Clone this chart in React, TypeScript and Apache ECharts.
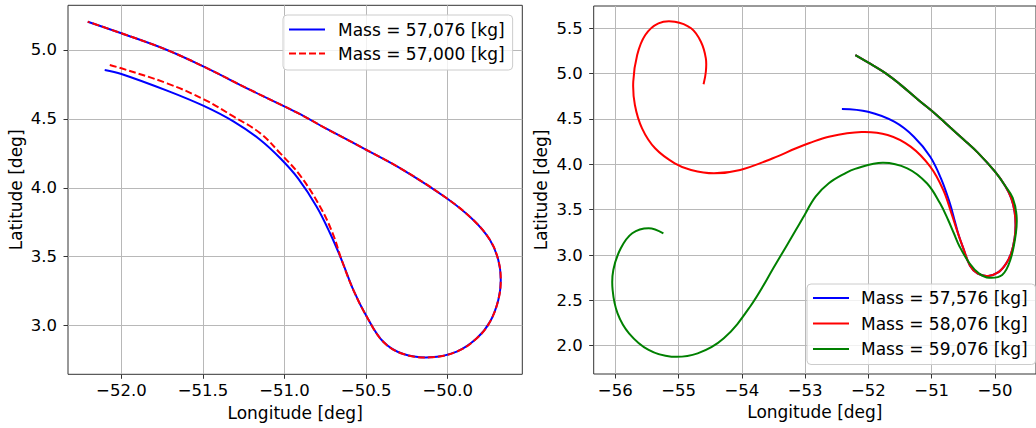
import React, { useEffect, useRef } from "react";
import * as echarts from "echarts";

// ---------- Data (longitude, latitude) ----------
// Left panel
const leftXTicks = [-52.0, -51.5, -51.0, -50.5, -50.0];
const leftYTicks = [3.0, 3.5, 4.0, 4.5, 5.0];
// Right panel
const rightXTicks = [-56, -55, -54, -53, -52, -51, -50];
const rightYTicks = [2.0, 2.5, 3.0, 3.5, 4.0, 4.5, 5.0, 5.5];

// Shared return loop (bottom of the loop) and upper branch
const loopBottom: number[][] = [
  [-50.496, 3.065], [-50.395, 2.883], [-50.272, 2.794], [-50.108, 2.770],
  [-49.945, 2.811], [-49.822, 2.908], [-49.741, 3.028], [-49.690, 3.186],
  [-49.675, 3.331], [-49.690, 3.476], [-49.741, 3.621],
];
const upperBranch: number[][] = [
  [-49.843, 3.766], [-50.006, 3.924], [-50.272, 4.129], [-50.496, 4.274],
  [-50.741, 4.427], [-50.923, 4.545], [-51.210, 4.710], [-51.495, 4.879],
  [-51.720, 5.0], [-52.0, 5.121], [-52.206, 5.205],
];

// Mass = 57,076 kg (lower branch)
const lower57076: number[][] = [
  [-52.102, 4.855], [-52.0, 4.826], [-51.720, 4.705], [-51.495, 4.594],
  [-51.311, 4.480], [-51.148, 4.347], [-51.026, 4.214], [-50.915, 4.065],
  [-50.803, 3.863], [-50.721, 3.670], [-50.650, 3.476], [-50.578, 3.258],
];
// Mass = 57,000 kg (lower branch)
const lower57000: number[][] = [
  [-52.071, 4.891], [-52.0, 4.867], [-51.720, 4.758], [-51.495, 4.642],
  [-51.311, 4.516], [-51.148, 4.395], [-51.026, 4.250], [-50.905, 4.090],
  [-50.782, 3.863], [-50.705, 3.670], [-50.650, 3.476], [-50.578, 3.258],
];
// Mass = 57,576 kg
const lower57576: number[][] = [
  [-52.419, 4.610], [-52.006, 4.580], [-51.592, 4.470], [-51.282, 4.305],
  [-51.023, 4.084], [-50.843, 3.827], [-50.713, 3.570], [-50.640, 3.386],
  [-50.575, 3.220],
];
// Mass = 58,076 kg
const path58076: number[][] = [
  [-54.605, 4.883], [-54.569, 5.021], [-54.569, 5.169], [-54.647, 5.352],
  [-54.802, 5.500], [-55.060, 5.573], [-55.318, 5.555], [-55.526, 5.426],
  [-55.654, 5.206], [-55.716, 4.911], [-55.690, 4.654], [-55.577, 4.397],
  [-55.371, 4.177], [-55.060, 4.011], [-54.802, 3.938], [-54.440, 3.901],
  [-54.026, 3.938], [-53.510, 4.067], [-53.143, 4.177], [-52.941, 4.232],
  [-52.626, 4.305], [-52.109, 4.357], [-51.696, 4.324], [-51.333, 4.195],
  [-51.023, 3.974], [-50.817, 3.717], [-50.688, 3.460], [-50.590, 3.250],
];
// Mass = 59,076 kg
const path59076: number[][] = [
  [-55.240, 3.240], [-55.473, 3.295], [-55.732, 3.240], [-55.913, 3.074],
  [-56.031, 2.835], [-56.042, 2.614], [-55.964, 2.357], [-55.783, 2.137],
  [-55.473, 1.953], [-55.112, 1.879], [-54.698, 1.916], [-54.285, 2.082],
  [-53.871, 2.430], [-53.457, 2.909], [-53.147, 3.276], [-53.039, 3.405],
  [-52.835, 3.643], [-52.626, 3.791], [-52.367, 3.901], [-52.212, 3.950],
  [-51.774, 4.018], [-51.386, 3.956], [-51.076, 3.791], [-50.868, 3.570],
  [-50.740, 3.386], [-50.650, 3.240], [-50.558, 3.092], [-50.403, 2.909],
  [-50.250, 2.795], [-50.093, 2.750], [-49.887, 2.780], [-49.758, 2.945],
  [-49.670, 3.240], [-49.660, 3.440], [-49.720, 3.630],
];

const names = {
  a: "Mass = 57,076 [kg]",
  b: "Mass = 57,000 [kg]",
  c: "Mass = 57,576 [kg]",
  d: "Mass = 58,076 [kg]",
  e: "Mass = 59,076 [kg]",
};

const FONT = "DejaVu Sans";
const minus = (s: string) => s.replace("-", "\u2212");
const SOLID_ICON = "path://M0,0H36V2H0Z";
const DASH_ICON = "path://M0,0H7V2H0Z M10,0H17V2H10Z M20,0H27V2H20Z M30,0H36V2H30Z";

export default function App() {
  const ref = useRef<HTMLDivElement>(null);
  useEffect(() => {
    if (!ref.current) return;
    const chart = echarts.init(ref.current, undefined, { renderer: "svg" });

    const axisCommon = (ticks: number[], digits: number) => ({
      type: "value" as const,
      axisLine: { show: false },
      axisTick: {
        show: true,
        customValues: ticks,
        length: 4.5,
        lineStyle: { color: "#333", width: 1 },
      },
      axisLabel: {
        customValues: ticks,
        color: "#000",
        fontFamily: FONT,
        fontSize: 16.5,
        formatter: (v: number) => minus(Number(v).toFixed(digits)),
      },
      splitLine: { show: true, lineStyle: { color: "#b8b8b8", width: 1 } },
      nameTextStyle: { color: "#000", fontFamily: FONT, fontSize: 17 },
    });

    const xAxisStyle = (ticks: number[], digits: number, min: number, max: number, gridIndex: number) => {
      const a: any = axisCommon(ticks, digits);
      a.axisLabel.margin = 8;
      return {
        ...a, gridIndex, min, max,
        name: "Longitude [deg]", nameLocation: "middle", nameGap: 29,
      };
    };
    const yAxisStyle = (ticks: number[], digits: number, min: number, max: number, gridIndex: number) => {
      const a: any = axisCommon(ticks, digits);
      a.axisLabel.margin = 11;
      return {
        ...a, gridIndex, min, max,
        name: "Latitude [deg]", nameLocation: "middle", nameGap: 44,
      };
    };

    const legendCommon = {
      orient: "vertical" as const,
      itemWidth: 36,
      itemHeight: 2,
      backgroundColor: "rgba(255,255,255,0.8)",
      borderColor: "#cccccc",
      borderWidth: 1,
      borderRadius: 4,
      selectedMode: false,
      textStyle: { color: "#000", fontFamily: FONT, fontSize: 17, lineHeight: 17 },
    };

    // A trajectory: the whole ordered list of points is drawn as one smooth
    // polyline, positioned through the axes' scales (api.coord).
    const curve = (name: string, pts: number[][], color: string, idx: number, dashed = false) => ({
      type: "custom" as const,
      name,
      coordinateSystem: "cartesian2d",
      xAxisIndex: idx,
      yAxisIndex: idx,
      data: pts,
      encode: { x: 0, y: 1 },
      color,
      itemStyle: { color },
      clip: true,
      silent: true,
      renderItem: (params: any, api: any) => {
        if (params.dataIndex !== 0) return null;
        const points = pts.map((p) => api.coord(p));
        return {
          type: "polyline",
          shape: { points, smooth: 0.38 },
          style: {
            stroke: color,
            lineWidth: 2,
            fill: null,
            lineDash: dashed ? [7, 3] : null,
            lineJoin: "round",
          },
        };
      },
    });

    chart.setOption({
      animation: false,
      grid: [
        { left: 68, top: 5.3, width: 454.3, height: 369, show: true, borderColor: "#333", borderWidth: 1, backgroundColor: "transparent" },
        { left: 593.7, top: 6, width: 451, height: 368, show: true, borderColor: "#333", borderWidth: 1, backgroundColor: "transparent" },
      ],
      xAxis: [
        xAxisStyle(leftXTicks, 1, -52.327, -49.543, 0),
        xAxisStyle(rightXTicks, 0, -56.341, -49.352, 1),
      ],
      yAxis: [
        yAxisStyle(leftYTicks, 1, 2.647, 5.324, 0),
        yAxisStyle(rightYTicks, 1, 1.688, 5.746, 1),
      ],
      legend: [
        {
          ...legendCommon,
          data: [
            { name: names.a, icon: SOLID_ICON },
            { name: names.b, icon: DASH_ICON },
          ],
          left: 283,
          top: 15,
          padding: [6, 8, 8, 6],
          itemGap: 7,
          textStyle: { ...legendCommon.textStyle, padding: [0, 0, 0, 8] },
        },
        {
          ...legendCommon,
          data: [
            { name: names.c, icon: SOLID_ICON },
            { name: names.d, icon: SOLID_ICON },
            { name: names.e, icon: SOLID_ICON },
          ],
          left: 807,
          top: 284,
          padding: [5.5, 8, 7, 6],
          itemGap: 8.5,
          textStyle: { ...legendCommon.textStyle, padding: [0, 0, 0, 7] },
        },
      ],
      series: [
        curve(names.a, [...lower57076, ...loopBottom, ...upperBranch], "#0000ff", 0),
        curve(names.b, [...lower57000, ...loopBottom, ...upperBranch], "#ff0000", 0, true),
        curve(names.c, [...lower57576, ...loopBottom, ...upperBranch], "#0000ff", 1),
        curve(names.d, [...path58076, ...loopBottom, ...upperBranch], "#ff0000", 1),
        curve(names.e, [...path59076, ...upperBranch], "#008000", 1),
      ],
    });

    return () => chart.dispose();
  }, []);

  return (
    <div
      ref={ref}
      style={{ position: "absolute", left: 0, top: 0, width: 1036, height: 428, background: "#fff" }}
    />
  );
}
